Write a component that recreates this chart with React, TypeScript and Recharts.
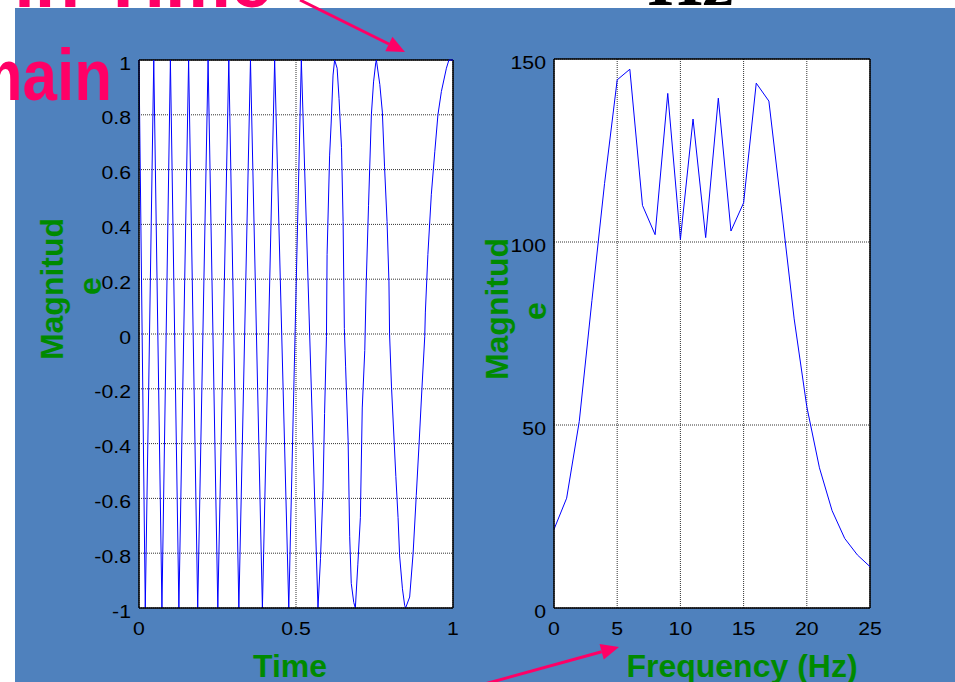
import { LineChart, Line, XAxis, YAxis, CartesianGrid, ReferenceLine } from 'recharts'

// time-domain chirp
const chirpTime = [
  0, 0.02, 0.047, 0.073, 0.1, 0.127, 0.158, 0.187, 0.22, 0.251, 0.286, 0.318,
  0.355, 0.393, 0.432, 0.477, 0.517, 0.57, 0.578, 0.586, 0.591, 0.597, 0.599,
  0.607, 0.612, 0.618, 0.623, 0.631, 0.637, 0.645, 0.65, 0.654, 0.658, 0.666,
  0.671, 0.676, 0.684, 0.689, 0.697, 0.705, 0.711, 0.719, 0.724, 0.731, 0.74,
  0.747, 0.754, 0.756, 0.767, 0.775, 0.782, 0.79, 0.796, 0.798, 0.804, 0.818,
  0.825, 0.83, 0.839, 0.846, 0.849, 0.862, 0.873, 0.883, 0.892, 0.901, 0.91,
  0.912, 0.92, 0.931, 0.942, 0.952, 0.963, 0.979, 0.987, 1,
]
const chirpValue = [
  1, -1, 1, -1, 1, -1, 1, -1, 1, -1, 1, -1,
  1, -1, 1, -1, 1, -1, -0.82, -0.57, -0.29, -0.01, 0.29,
  0.65, 0.77, 0.945, 1, 0.97, 0.86, 0.68, 0.41, 0.02, -0.12, -0.39,
  -0.74, -0.91, -0.98, -1, -0.84, -0.67, -0.27, -0.06, 0.2, 0.47, 0.8,
  0.92, 0.99, 1, 0.91, 0.81, 0.61, 0.41, 0.19, 0, -0.19, -0.52,
  -0.67, -0.81, -0.93, -0.99, -1, -0.96, -0.8, -0.59, -0.4, -0.2, -0.01,
  0.08, 0.29, 0.51, 0.665, 0.8, 0.885, 0.97, 1, 1,
]
const timeTicks = [0, 0.5, 1]
const ampTicks = [-1, -0.8, -0.6, -0.4, -0.2, 0, 0.2, 0.4, 0.6, 0.8, 1]

// spectrum
const freqHz = [0, 1, 2, 3, 4, 5, 6, 7, 8, 9, 10, 11, 12, 13, 14, 15, 16, 17, 18, 19, 20, 21, 22, 23, 24, 25]
const magnitude = [
  21.5, 30, 51, 84, 116, 144.3, 147.2, 110, 102, 140.6, 100.7, 133.6, 101.2,
  139.3, 103, 110.7, 143.4, 138.5, 109, 79, 55, 38.3, 26.6, 19, 14.5, 11.3,
]
const freqTicks = [0, 5, 10, 15, 20, 25]
const magTicks = [0, 50, 100, 150]

const timeData = chirpTime.map((t, i) => ({ t, v: chirpValue[i] }))
const specData = freqHz.map((f, i) => ({ f, m: magnitude[i] }))

const sans = '"Liberation Sans", Arial, sans-serif'
const green = '#008a00'
const pink = '#ff0066'
const frame = { stroke: '#000', strokeWidth: 1.5 }

const YTick = (props: any) => {
  const { x, y, payload } = props
  return (
    <text x={0} y={0} dy="0.52em" transform={`translate(${x} ${y}) scale(1.15 1)`}
      textAnchor="end" fontSize={18.5} fontFamily={sans} fill="#000">
      {String(payload.value)}
    </text>
  )
}

const XTick = (props: any) => {
  const { x, y, payload } = props
  return (
    <text x={0} y={19} transform={`translate(${x} ${y}) scale(1.15 1)`}
      textAnchor="middle" fontSize={18.5} fontFamily={sans} fill="#000">
      {String(payload.value)}
    </text>
  )
}

// plot box: x 139..453, y 60..608 (axis sizes are taken out of the margins)
const TimePlot = () => (
  <LineChart width={470} height={682} data={timeData} margin={{ top: 60, right: 17, bottom: 44, left: 79 }}>
    <CartesianGrid fill="#fff" fillOpacity={1} stroke="#333" strokeDasharray="1 1" />
    <XAxis dataKey="t" type="number" domain={[0, 1]} ticks={timeTicks} height={30}
      tick={<XTick />} tickLine={false} axisLine={frame} />
    <YAxis type="number" domain={[-1, 1]} ticks={ampTicks} width={60}
      tick={<YTick />} tickLine={false} axisLine={frame} />
    <ReferenceLine y={1} stroke="#000" strokeWidth={1.5} ifOverflow="visible" />
    <ReferenceLine x={1} stroke="#000" strokeWidth={1.5} ifOverflow="visible" />
    <Line type="linear" dataKey="v" stroke="#0000ff" strokeWidth={1} dot={false} isAnimationActive={false} />
  </LineChart>
)

// plot box: x 554..870, y 59..608
const SpectrumPlot = () => (
  <LineChart width={485} height={682} data={specData} margin={{ top: 59, right: 85, bottom: 44, left: 24 }}>
    <CartesianGrid fill="#fff" fillOpacity={1} stroke="#333" strokeDasharray="1 1" />
    <XAxis dataKey="f" type="number" domain={[0, 25]} ticks={freqTicks} height={30}
      tick={<XTick />} tickLine={false} axisLine={frame} />
    <YAxis type="number" domain={[0, 150]} ticks={magTicks} width={60}
      tick={<YTick />} tickLine={false} axisLine={frame} />
    <ReferenceLine y={150} stroke="#000" strokeWidth={1.5} ifOverflow="visible" />
    <ReferenceLine x={25} stroke="#000" strokeWidth={1.5} ifOverflow="visible" />
    <Line type="linear" dataKey="m" stroke="#0000ff" strokeWidth={1} dot={false} isAnimationActive={false} />
  </LineChart>
)

const Arrow = ({ x1, y1, x2, y2 }: { x1: number; y1: number; x2: number; y2: number }) => {
  const dx = x2 - x1
  const dy = y2 - y1
  const len = Math.hypot(dx, dy)
  const ux = dx / len
  const uy = dy / len
  const bx = x2 - ux * 18
  const by = y2 - uy * 18
  return (
    <g>
      <line x1={x1} y1={y1} x2={bx} y2={by} stroke={pink} strokeWidth={3} />
      <polygon
        points={`${x2},${y2} ${bx - uy * 8},${by + ux * 8} ${bx + uy * 8},${by - ux * 8}`}
        fill={pink}
      />
    </g>
  )
}

export default function App() {
  return (
    <div style={{ position: 'absolute', left: 0, top: 0, width: 955, height: 682, background: '#fff', overflow: 'hidden' }}>
      <div style={{ position: 'absolute', left: 15, top: 8, width: 940, height: 674, background: '#4f81bd' }} />
      <div style={{ position: 'absolute', left: 0, top: 0 }}>
        <TimePlot />
      </div>
      <div style={{ position: 'absolute', left: 470, top: 0 }}>
        <SpectrumPlot />
      </div>
      <svg width={955} height={682} style={{ position: 'absolute', left: 0, top: 0, pointerEvents: 'none' }}>
        <text x={272} y={7} textAnchor="end" fontSize={74} fontWeight="bold" fontFamily={sans} fill={pink}>in Time</text>
        <text x={0} y={0} transform="translate(112 100) scale(0.86 1)" textAnchor="end" fontSize={72}
          fontWeight="bold" fontFamily={sans} fill={pink}>Domain</text>
        <text x={648} y={5} fontSize={70} fontWeight="bold" fontFamily='"Liberation Serif", "Times New Roman", serif' fill="#000">Hz</text>
        <Arrow x1={300} y1={0} x2={405} y2={52} />
        <Arrow x1={470} y1={688} x2={619} y2={647} />
        <text x={290} y={677} textAnchor="middle" fontSize={32} fontWeight="bold" fontFamily={sans} fill={green}>Time</text>
        <text x={742} y={677} textAnchor="middle" fontSize={32} fontWeight="bold" fontFamily={sans} fill={green}>Frequency (Hz)</text>
        <text transform="translate(63 289) rotate(-90)" textAnchor="middle" fontSize={32} fontWeight="bold" fontFamily={sans} fill={green}>Magnitud</text>
        <text transform="translate(101 286) rotate(-90)" textAnchor="middle" fontSize={32} fontWeight="bold" fontFamily={sans} fill={green}>e</text>
        <text transform="translate(508 309) rotate(-90)" textAnchor="middle" fontSize={32} fontWeight="bold" fontFamily={sans} fill={green}>Magnitud</text>
        <text transform="translate(546 311) rotate(-90)" textAnchor="middle" fontSize={32} fontWeight="bold" fontFamily={sans} fill={green}>e</text>
      </svg>
    </div>
  )
}
